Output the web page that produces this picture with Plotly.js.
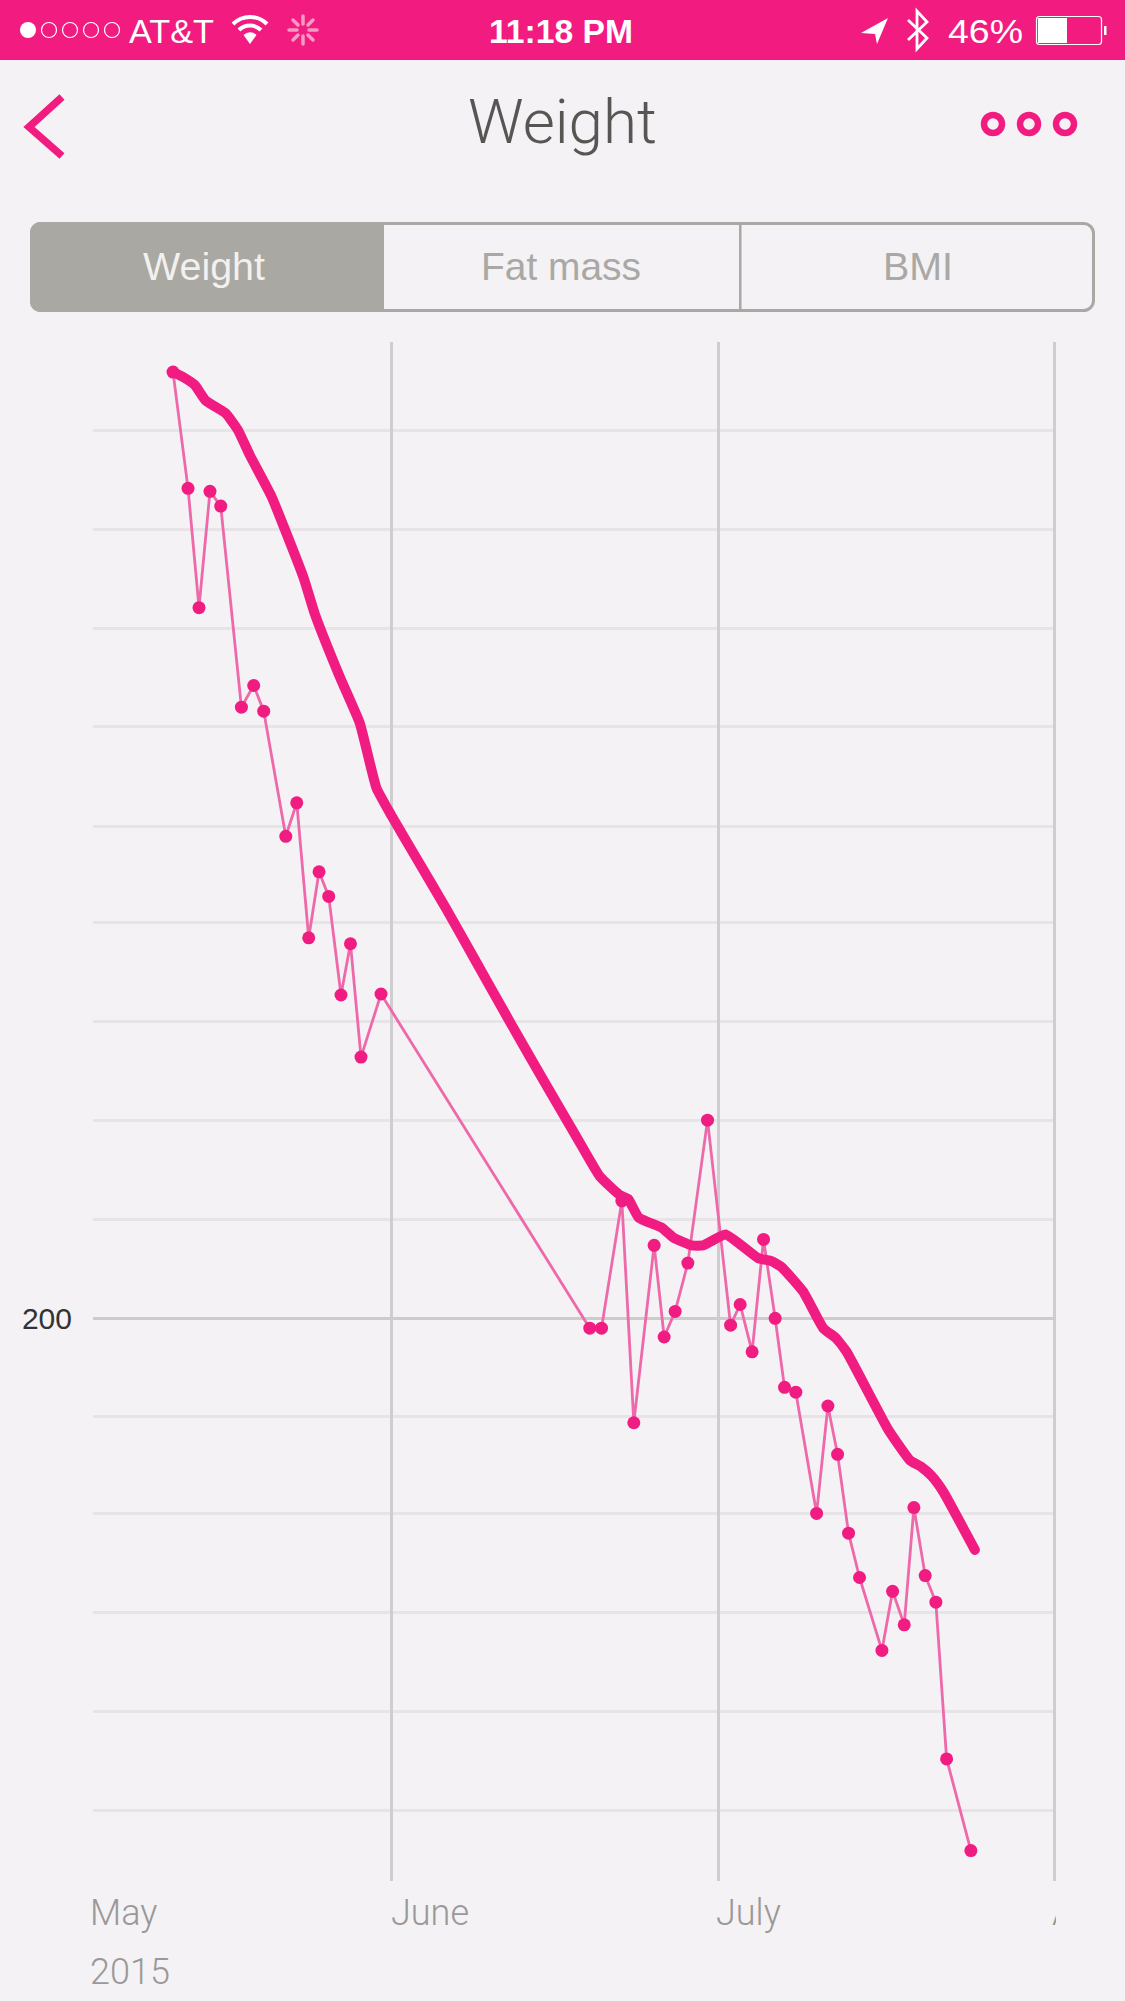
<!DOCTYPE html>
<html>
<head>
<meta charset="utf-8">
<title>Weight</title>
<script src="https://cdn.plot.ly/plotly-3.0.1.min.js"></script>
<style>
html,body{margin:0;padding:0;width:1125px;height:2001px;overflow:hidden;background:#f4f2f4;}
#chart{position:absolute;left:0;top:0;width:1125px;height:2001px;}
#chrome{position:absolute;left:0;top:0;width:1125px;height:330px;}
#mask{position:absolute;left:1056px;top:1885px;width:69px;height:60px;background:#f4f2f4;}
.js-line{stroke-linecap:round;stroke-linejoin:round;}
</style>
</head>
<body>
<div id="chart"></div>
<div id="mask"></div>
<svg id="chrome" width="1125" height="330" viewBox="0 0 1125 330" font-family="'Liberation Sans',Arial,sans-serif">
  <rect x="0" y="0" width="1125" height="60" fill="#f21b80"/>
  <circle cx="28" cy="30" r="8" fill="#fff"/>
  <g fill="none" stroke="#fff" stroke-width="1.2">
    <circle cx="49" cy="30" r="7.5"/><circle cx="70" cy="30" r="7.5"/><circle cx="91" cy="30" r="7.5"/><circle cx="112" cy="30" r="7.5"/>
  </g>
  <text x="129" y="43" font-size="34" fill="#fff" textLength="85" lengthAdjust="spacingAndGlyphs">AT&amp;T</text>
  <g fill="none" stroke="#fff" stroke-width="4">
    <path d="M233 24 A24 24 0 0 1 267 24"/>
    <path d="M239 30 A16 16 0 0 1 261 30"/>
  </g>
  <path d="M243.500 35 A9 9 0 0 1 256.500 35 L250 44 Z" fill="#fff"/>
  <g stroke="#fff" stroke-width="3.500" stroke-linecap="round" opacity="0.55">
    <path d="M303 16V24M303 36V44M289 30H297M309 30H317M293 20L298 25M308 35L313 40M293 40L298 35M308 25L313 20"/>
  </g>
  <text x="489" y="43" font-size="34" font-weight="700" fill="#fff" textLength="144" lengthAdjust="spacingAndGlyphs">11:18 PM</text>
  <path d="M888 18 L861 33 L875 34 L877 44 Z" fill="#fff"/>
  <path d="M908 20 L927 38 L917 49 L917 11 L927 22 L908 40" fill="none" stroke="#fff" stroke-width="2.800"/>
  <text x="948" y="43" font-size="34" fill="#fff" textLength="75" lengthAdjust="spacingAndGlyphs">46%</text>
  <rect x="1036.500" y="16.500" width="65" height="28" rx="3" fill="none" stroke="#fff" stroke-width="1.200"/>
  <rect x="1038" y="18" width="29" height="25" fill="#fff"/>
  <rect x="1104" y="26" width="2.500" height="9" fill="#fff"/>

  <path d="M62 97 L29 127 L62 156" fill="none" stroke="#f21b80" stroke-width="7.500"/>
  <text x="468" y="143" font-size="62" fill="#565654" font-weight="300" font-family="Roboto,'Liberation Sans',sans-serif" textLength="189" lengthAdjust="spacingAndGlyphs">Weight</text>
  <g fill="none" stroke="#f21b80" stroke-width="6.500">
    <circle cx="993" cy="124" r="9"/><circle cx="1029" cy="124" r="9"/><circle cx="1065" cy="124" r="9"/>
  </g>

  <rect x="31.500" y="223.500" width="1062" height="87" rx="10" fill="none" stroke="#aaa8a4" stroke-width="3"/>
  <path d="M384 222 H40 A10 10 0 0 0 30 232 V302 A10 10 0 0 0 40 312 H384 Z" fill="#aaa8a3"/>
  <rect x="739" y="223" width="2.500" height="88" fill="#aaa8a4"/>
  <text x="143" y="280" font-size="39" fill="#f2f1ef" textLength="122" lengthAdjust="spacingAndGlyphs">Weight</text>
  <text x="481" y="280" font-size="39" fill="#aaa8a5" textLength="160" lengthAdjust="spacingAndGlyphs">Fat mass</text>
  <text x="883" y="280" font-size="39" fill="#aaa8a5" textLength="70" lengthAdjust="spacingAndGlyphs">BMI</text>
</svg>
<script>
// Days are counted from 1 May 2015; weights.
const MAY_1 = Date.UTC(2015, 4, 1);
const DAY_MS = 864e5;

const measuredDays = [10.91,12.29,13.30,14.31,15.30,17.20,18.33,19.25,21.28,22.29,23.39,24.34,25.23,26.36,27.23,28.20,30.04,
  49.24,50.32,52.19,53.29,55.16,56.08,57.09,58.26,60.07,62.19,63.07,64.17,65.22,66.29,67.15,68.19,70.10,71.14,72.03,73.04,74.05,
  76.11,77.09,78.16,79.05,80.09,81.07,82.06,84.29];
const measuredWeights = [209.60,208.42,207.21,208.39,208.24,206.20,206.42,206.16,204.89,205.23,203.86,204.53,204.28,203.28,203.80,202.65,203.29,
  199.90,199.90,201.19,198.94,200.74,199.81,200.07,200.56,202.01,199.93,200.14,199.66,200.80,200.00,199.30,199.25,198.02,199.11,198.62,197.82,197.37,
  196.63,197.23,196.89,198.08,197.39,197.12,195.53,194.60];

const trendDays = [10.91,11.83,12.90,13.92,15.76,16.89,17.96,19.96,21.03,22.93,23.94,26.24,28.08,29.62,31.00,33.45,36.06,38.82,41.88,44.95,48.02,50.16,52.00,52.77,53.75,
  55.84,56.91,58.60,59.67,61.73,64.73,65.96,66.88,68.87,70.71,71.87,72.86,76.69,78.68,79.76,80.68,81.75,84.66];
const trendWeights = [209.60,209.55,209.47,209.31,209.18,209.01,208.76,208.34,208.05,207.51,207.15,206.51,206.04,205.38,205.10,204.64,204.15,203.61,203.01,202.42,201.84,201.44,201.25,201.21,201.02,
  200.92,200.82,200.74,200.74,200.85,200.61,200.58,200.52,200.27,199.90,199.80,199.66,198.87,198.56,198.49,198.40,198.24,197.65];

const labelledWeight = [200];
const otherWeightLines = [209.01,208.00,207.00,206.00,204.99,204.02,203.01,202.01,201.00,199.00,198.02,197.02,196.01,195.01];
const monthStarts = ['2015-06-01','2015-07-01 02:00','2015-08-01'];
const monthLabels = ['June','July','A'];

const toMs = d => MAY_1 + d * DAY_MS;
const PINK = '#f01c82';
const TICK_FONT = "'Liberation Sans',Arial,sans-serif";
const LABEL_FONT = "Roboto,'Liberation Sans',sans-serif";

const traces = [
  {x: measuredDays.map(toMs), y: measuredWeights, mode: 'lines+markers', type: 'scatter',
   line: {color: '#ee69a9', width: 2.8}, marker: {color: PINK, size: 13}, hoverinfo: 'skip'},
  {x: trendDays.map(toMs), y: trendWeights, mode: 'lines', type: 'scatter',
   line: {color: PINK, width: 10, shape: 'spline', smoothing: 0.4}, hoverinfo: 'skip'}
];

const labelShifts = [0, -3, -3];
const xLabel = (x, text, yshift, xshift) => ({x, y: 0, xref: 'x', yref: 'paper', text, showarrow: false,
  xanchor: 'left', yanchor: 'top', yshift, xshift, font: {family: LABEL_FONT, size: 36, color: '#9a9898', weight: 300}, borderpad: 0, borderwidth: 0});

const xStart = toMs(3.55);
const annotations = [xLabel(xStart, 'May', -11, -3), xLabel(xStart, '2015', -70, -3)]
  .concat(monthStarts.map((m, i) => xLabel(m, monthLabels[i], -11, labelShifts[i])));

const layout = {
  width: 1125, height: 2001,
  margin: {l: 93, r: 69, t: 342, b: 120, pad: 0},
  paper_bgcolor: 'rgba(0,0,0,0)', plot_bgcolor: 'rgba(0,0,0,0)',
  showlegend: false,
  xaxis: {type: 'date', range: [xStart, toMs(92.12)], tickmode: 'array', tickvals: monthStarts,
    showticklabels: false, ticks: '', showgrid: true, gridcolor: '#cfcdcf', gridwidth: 2.6, zeroline: false, showline: false},
  yaxis: {range: [194.291, 209.905], tickmode: 'array', tickvals: labelledWeight, ticktext: labelledWeight.map(String),
    ticks: '', ticklabelstandoff: 20, tickfont: {family: TICK_FONT, size: 30, color: '#333333'},
    showgrid: true, gridcolor: '#cdcbcc', gridwidth: 3, zeroline: false, showline: false,
    minor: {tickmode: 'array', tickvals: otherWeightLines, showgrid: true, gridcolor: '#e6e4e6', gridwidth: 3, ticks: ''}},
  annotations
};

Plotly.newPlot('chart', traces, layout, {displayModeBar: false, staticPlot: true, responsive: false});
</script>
</body>
</html>
